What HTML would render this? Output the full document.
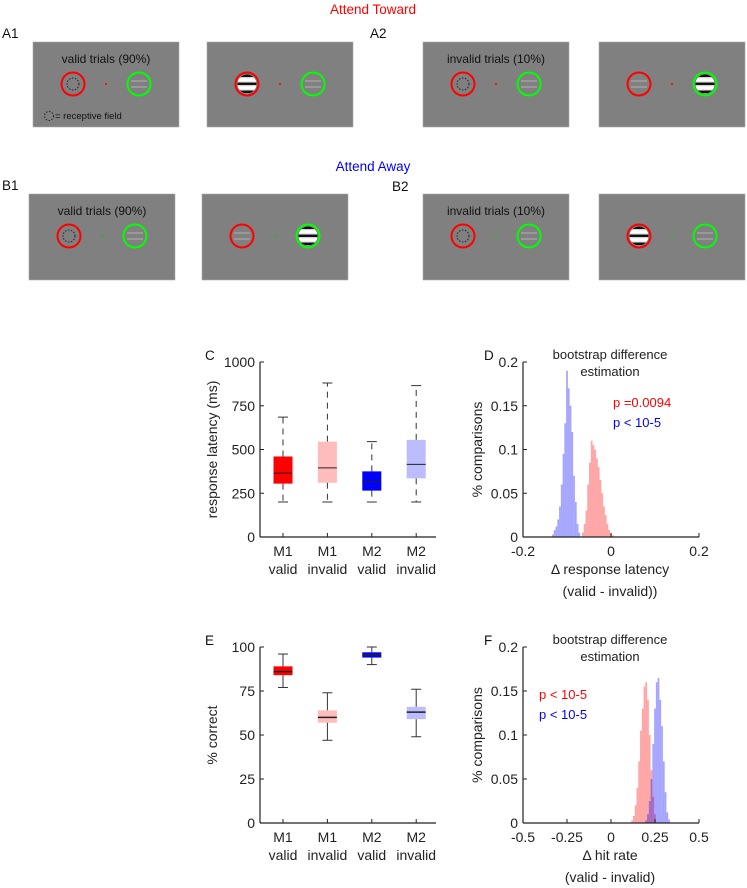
<!DOCTYPE html>
<html><head><meta charset="utf-8"><style>
html,body{margin:0;padding:0;background:#fff;}
svg{display:block;font-family:"Liberation Sans",Arial,sans-serif;}
</style></head><body>
<svg id="fig" width="747" height="888" viewBox="0 0 747 888" xmlns="http://www.w3.org/2000/svg">
<text x="373" y="14" fill="#ff0000" font-size="13.5" text-anchor="middle">Attend Toward</text>
<text x="373" y="171" fill="#0000ff" font-size="13.5" text-anchor="middle">Attend Away</text>
<g id="stim"></g>
<g id="chartC"></g><g id="chartD"></g><g id="chartE"></g><g id="chartF"></g>
</svg>
<script>
const NS="http://www.w3.org/2000/svg";
function mk(parent,tag,attrs,text){const e=document.createElementNS(NS,tag);for(const k in attrs)e.setAttribute(k,attrs[k]);if(text!==undefined)e.textContent=text;parent.appendChild(e);return e;}

// ---- box plot data ----
const boxCategories=["M1 valid","M1 invalid","M2 valid","M2 invalid"];
const boxColors=["#ff0000","#ffbcbc","#0000ff","#bcbcff"];
const latMin=[200,200,200,200];
const latQ1=[305,310,265,335];
const latMed=[365,395,318,415];
const latQ3=[460,545,375,555];
const latMax=[685,880,545,865];
const latTicks=[0,250,500,750,1000];
const corMin=[77,47,90,49];
const corQ1=[84,57,94,59];
const corMed=[86,60,95.5,63];
const corQ3=[89,64,97,66];
const corMax=[96,74,100,76];
const corTicks=[0,25,50,75,100];

// ---- histogram data ----
const dBlueX=[-0.132,-0.128,-0.124,-0.120,-0.116,-0.112,-0.108,-0.104,-0.100,-0.096,-0.092,-0.088,-0.084,-0.080,-0.076,-0.072];
const dBlueY=[0.003,0.008,0.012,0.02,0.035,0.06,0.095,0.13,0.19,0.17,0.15,0.12,0.07,0.04,0.015,0.005];
const dRedX=[-0.064,-0.060,-0.056,-0.052,-0.048,-0.044,-0.040,-0.036,-0.032,-0.028,-0.024,-0.020,-0.016,-0.012,-0.008,-0.004,0.000,0.004];
const dRedY=[0.005,0.015,0.03,0.06,0.085,0.11,0.105,0.1,0.09,0.08,0.065,0.05,0.035,0.025,0.015,0.008,0.004,0.002];
const dTicksX=[-0.2,0,0.2];
const dTicksY=[0,0.05,0.1,0.15,0.2];
const fRedX=[0.12,0.13,0.14,0.15,0.16,0.17,0.18,0.19,0.20,0.21,0.22,0.23,0.24,0.25];
const fRedY=[0.003,0.008,0.02,0.04,0.07,0.105,0.13,0.155,0.16,0.14,0.1,0.06,0.03,0.01];
const fBlueX=[0.20,0.21,0.22,0.23,0.24,0.25,0.26,0.27,0.28,0.29,0.30,0.31,0.32,0.33];
const fBlueY=[0.003,0.01,0.025,0.05,0.09,0.13,0.16,0.165,0.14,0.11,0.07,0.035,0.012,0.004];
const fTicksX=[-0.5,-0.25,0,0.25,0.5];
const fTicksY=[0,0.05,0.1,0.15,0.2];

// ---- stimulus panels ----
const stim=document.getElementById('stim');
function grating(g,cx,cy,strong){
  const clip='c'+Math.round(cx)+'_'+Math.round(cy);
  const cp=mk(g,'clipPath',{id:clip});mk(cp,'circle',{cx:cx,cy:cy,r:9.5});
  const gg=mk(g,'g',{'clip-path':'url(#'+clip+')'});
  if(strong){
    mk(gg,'circle',{cx:cx,cy:cy,r:9.5,fill:'#e8e8e8'});
    for(let i=-2;i<=2;i++){mk(gg,'rect',{x:cx-10,y:cy+i*4-1.5,width:20,height:2.6,fill:i%2?'#fff':'#111'});}
  }else{
    for(let i=-1;i<=1;i+=2){mk(gg,'rect',{x:cx-8,y:cy+i*3-1,width:16,height:2,fill:'#999'});}
  }
}
function panel(x,y,w,h,fixColor,redMode,greenMode,title,legend,name){
  const g=mk(stim,'g',{});
  
  
  mk(g,'rect',{x:x,y:y,width:w,height:h,fill:'#808080',stroke:'#aaa','stroke-width':0.6});
  const cy=y+42, rx=x+40, gx=x+106;
  if(redMode==='rf') mk(g,'circle',{cx:rx,cy:cy,r:6,fill:'none',stroke:'#223','stroke-width':1,'stroke-dasharray':'1.5,1.5'});
  else grating(g,rx,cy,redMode==='strong');
  grating(g,gx,cy,greenMode==='strong');
  mk(g,'circle',{cx:rx,cy:cy,r:11.5,fill:'none',stroke:'#ff0000','stroke-width':2});
  mk(g,'circle',{cx:gx,cy:cy,r:11.5,fill:'none',stroke:'#00ff00','stroke-width':2});
  mk(g,'circle',{cx:x+73,cy:cy,r:1,fill:fixColor});
  if(title) mk(g,'text',{x:x+w/2,y:y+21,'font-size':12,'text-anchor':'middle',fill:'#111'},title);
  if(legend){mk(g,'circle',{cx:x+16,cy:y+74,r:4.5,fill:'none',stroke:'#223','stroke-width':1,'stroke-dasharray':'1.5,1.5'});
    mk(g,'text',{x:x+22,y:y+77,'font-size':9.5,fill:'#111'},'= receptive field');}
}
const lbls=[["A1",2,38],["A2",370,38],["B1",2,190],["B2",392,191]];
lbls.forEach(l=>{const t=mk(stim,'text',{x:l[1],y:l[2],'font-size':13.5,fill:'#111'},l[0]);});
panel(33,42,146,85,'#ff0000','rf','weak','valid trials (90%)',true,'a1-cue-panel');
panel(207,42,146,85,'#ff0000','strong','weak','',false,'a1-target-panel');
panel(423,42,146,85,'#ff0000','rf','weak','invalid trials (10%)',false,'a2-cue-panel');
panel(599,42,146,85,'#ff0000','weak','strong','',false,'a2-target-panel');
panel(29,194,146,86,'#00cc00','rf','weak','valid trials (90%)',false,'b1-cue-panel');
panel(202,194,146,86,'#00cc00','weak','strong','',false,'b1-target-panel');
panel(423,194,146,86,'#00cc00','rf','weak','invalid trials (10%)',false,'b2-cue-panel');
panel(599,194,146,86,'#00cc00','strong','weak','',false,'b2-target-panel');

// ---- box plots ----
function boxChart(gid,top,bottom,vmax,ticks,mn,q1,md,q3,mx,dashed,ylabel,letter){
  const g=document.getElementById(gid);
  const x0=260,x1=436;
  const ys=v=>bottom-(v/vmax)*(bottom-top);
  const xs=i=>283+i*44.4;
  mk(g,'line',{x1:x0,y1:top,x2:x0,y2:bottom,stroke:'#222','stroke-width':1.2});
  mk(g,'line',{x1:x0,y1:bottom,x2:x1,y2:bottom,stroke:'#222','stroke-width':1.2});
  ticks.forEach(t=>{mk(g,'line',{x1:x0,y1:ys(t),x2:x0+4,y2:ys(t),stroke:'#222'});
    const tl=mk(g,'text',{x:x0-5,y:ys(t)+5,'font-size':14,'text-anchor':'end',fill:'#222'},String(t));
    });
  boxCategories.forEach((c,i)=>{
    const cx=xs(i);
    mk(g,'line',{x1:cx,y1:bottom,x2:cx,y2:bottom-4,stroke:'#222'});
    const p=c.split(' ');
    mk(g,'text',{x:cx,y:bottom+19,'font-size':14,'text-anchor':'middle',fill:'#222'},p[0]);
    mk(g,'text',{x:cx,y:bottom+37,'font-size':14,'text-anchor':'middle',fill:'#222'},p[1]);
    const bg=mk(g,'g',{});
    
    
    const da=dashed?'6,5':'none';
    mk(bg,'line',{x1:cx,y1:ys(q3[i]),x2:cx,y2:ys(mx[i]),stroke:'#333','stroke-dasharray':da});
    mk(bg,'line',{x1:cx,y1:ys(q1[i]),x2:cx,y2:ys(mn[i]),stroke:'#333','stroke-dasharray':da});
    mk(bg,'line',{x1:cx-5,y1:ys(mx[i]),x2:cx+5,y2:ys(mx[i]),stroke:'#333'});
    mk(bg,'line',{x1:cx-5,y1:ys(mn[i]),x2:cx+5,y2:ys(mn[i]),stroke:'#333'});
    mk(bg,'rect',{x:cx-9.5,y:ys(q3[i]),width:19,height:ys(q1[i])-ys(q3[i]),fill:boxColors[i]});
    mk(bg,'line',{x1:cx-9.5,y1:ys(md[i]),x2:cx+9.5,y2:ys(md[i]),stroke:'#222','stroke-width':dashed?1:1.5});
  });
  const yl=mk(g,'text',{x:0,y:0,'font-size':14,'text-anchor':'middle',fill:'#222',transform:'translate(217,'+((top+bottom)/2)+') rotate(-90)'},ylabel);
  
  mk(g,'text',{x:205,y:top-2,'font-size':13.5,fill:'#111'},letter);
}
boxChart('chartC',362,537,1000,latTicks,latMin,latQ1,latMed,latQ3,latMax,true,'response latency (ms)','C');
boxChart('chartE',647,823,100,corTicks,corMin,corQ1,corMed,corQ3,corMax,false,'% correct','E');

// ---- histograms ----
function histChart(gid,top,bottom,xmin,xmax,tx,ty,series,bw,xl1,xl2,ptexts,ptx,pty,letter,lx){
  const g=document.getElementById(gid);
  const x0=523,x1=699;
  const xs=v=>x0+(v-xmin)/(xmax-xmin)*(x1-x0);
  const ys=v=>bottom-(v/0.2)*(bottom-top);
  series.forEach(s=>{
    const sg=mk(g,'g',{});
    
    
    s.x.forEach((v,i)=>{const w=xs(v+bw/2)-xs(v-bw/2);
      mk(sg,'rect',{x:xs(v-bw/2),y:ys(s.y[i]),width:w,height:bottom-ys(s.y[i]),fill:s.c,'fill-opacity':0.35});});
  });
  mk(g,'line',{x1:x0,y1:top,x2:x0,y2:bottom,stroke:'#222','stroke-width':1.2});
  mk(g,'line',{x1:x0,y1:bottom,x2:x1,y2:bottom,stroke:'#222','stroke-width':1.2});
  mk(g,'line',{x1:x0,y1:top,x2:x0+4,y2:top,stroke:'#222'});
  mk(g,'line',{x1:x1,y1:bottom,x2:x1,y2:bottom-4,stroke:'#222'});
  ty.forEach(t=>{mk(g,'line',{x1:x0,y1:ys(t),x2:x0+4,y2:ys(t),stroke:'#222'});
    mk(g,'text',{x:x0-5,y:ys(t)+5,'font-size':14,'text-anchor':'end',fill:'#222'},String(t));});
  tx.forEach(t=>{mk(g,'line',{x1:xs(t),y1:bottom,x2:xs(t),y2:bottom-4,stroke:'#222'});
    mk(g,'text',{x:xs(t),y:bottom+19,'font-size':14,'text-anchor':'middle',fill:'#222'},String(t));});
  mk(g,'text',{x:0,y:0,'font-size':14,'text-anchor':'middle',fill:'#222',transform:'translate(482,'+((top+bottom)/2)+') rotate(-90)'},'% comparisons');
  mk(g,'text',{x:610,y:top-3,'font-size':13,'text-anchor':'middle',fill:'#222'},'bootstrap difference');
  mk(g,'text',{x:610,y:top+14,'font-size':13,'text-anchor':'middle',fill:'#222'},'estimation');
  mk(g,'text',{x:610,y:bottom+37,'font-size':14,'text-anchor':'middle',fill:'#222'},xl1);
  mk(g,'text',{x:610,y:bottom+59,'font-size':14,'text-anchor':'middle',fill:'#222'},xl2);
  mk(g,'text',{x:ptx,y:pty,'font-size':13,fill:'#ff0000'},ptexts[0]);
  mk(g,'text',{x:ptx,y:pty+20,'font-size':13,fill:'#0000ff'},ptexts[1]);
  mk(g,'text',{x:lx,y:top-2,'font-size':13.5,fill:'#111'},letter);
}
histChart('chartD',362,537,-0.2,0.2,dTicksX,dTicksY,
  [{name:'hist-m2-blue',x:dBlueX,y:dBlueY,c:'#0000ff'},{name:'hist-m1-red',x:dRedX,y:dRedY,c:'#ff0000'}],
  0.004,'\u0394 response latency','(valid - invalid))',['p =0.0094','p < 10-5'],613,407,'D',484);
histChart('chartF',647,823,-0.5,0.5,fTicksX,fTicksY,
  [{name:'hist-m1-red',x:fRedX,y:fRedY,c:'#ff0000'},{name:'hist-m2-blue',x:fBlueX,y:fBlueY,c:'#0000ff'}],
  0.01,'\u0394 hit rate','(valid - invalid)',['p < 10-5','p < 10-5'],539,699,'F',484);
</script>
</body></html>
